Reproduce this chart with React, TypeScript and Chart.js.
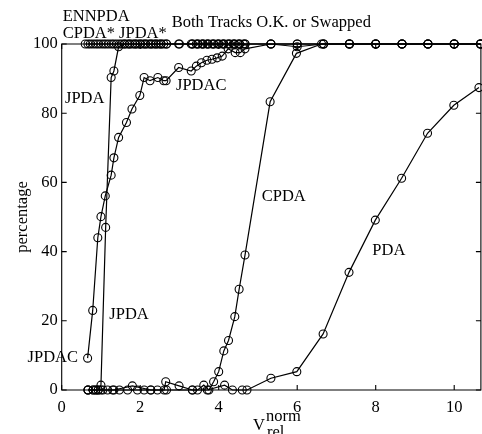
import React, { useEffect, useRef } from "react";
import { Chart, registerables } from "chart.js";

Chart.register(...registerables);

// ---- data ----
const xTicks = [0, 2, 4, 6, 8, 10];
const yTicks = [0, 20, 40, 60, 80, 100];

const ennpdaX = [0.6, 0.73, 0.87, 1.0, 1.13, 1.27, 1.4, 1.53, 1.67, 1.8, 1.93, 2.07, 2.2, 2.33, 2.47, 2.6, 2.98, 3.3, 3.43, 3.57, 3.7, 3.83, 3.97, 4.1, 4.23, 4.37, 4.5, 4.63, 5.33, 6.0, 6.67, 7.33, 8.0, 8.67, 9.33, 10.0, 10.67];
const ennpdaY = [100, 100, 100, 100, 100, 100, 100, 100, 100, 100, 100, 100, 100, 100, 100, 100, 100, 100, 100, 100, 100, 100, 100, 100, 100, 100, 100, 100, 100, 100, 100, 100, 100, 100, 100, 100, 100];

const starX = [0.67, 0.8, 0.93, 1.07, 1.2, 1.33, 1.47, 1.6, 1.73, 1.87, 2.0, 2.13, 2.27, 2.4, 2.53, 2.67, 3.33, 3.47, 3.6, 3.73, 3.87, 4.0, 4.13, 4.27, 4.4, 4.53, 4.67];
const starY = [100, 100, 100, 100, 100, 100, 100, 100, 100, 100, 100, 100, 100, 100, 100, 100, 100, 100, 100, 100, 100, 100, 100, 100, 100, 100, 100];

const jpdaX = [0.67, 0.8, 0.87, 0.93, 1.0, 1.12, 1.26, 1.33, 1.45, 1.6, 1.73, 1.87, 2.0, 2.13, 2.27, 2.4, 2.53, 2.67, 3.0, 3.33, 3.47, 3.6, 3.73, 3.87, 4.0, 4.13, 4.27, 4.4, 4.53, 4.67, 5.33, 6.0, 6.67, 7.33, 8.0, 8.67, 9.33, 10.0, 10.67];
const jpdaY = [0, 0, 0, 0, 1.4, 47, 90.3, 92.2, 99.2, 100, 100, 100, 100, 100, 100, 100, 100, 100, 100, 100, 100, 100, 100, 100, 100, 100, 100, 100, 100, 100, 100, 100, 100, 100, 100, 100, 100, 100, 100];

const jpdacX = [0.66, 0.79, 0.92, 1.0, 1.11, 1.26, 1.33, 1.45, 1.65, 1.79, 1.99, 2.1, 2.25, 2.45, 2.6, 2.66, 2.98, 3.3, 3.43, 3.56, 3.7, 3.83, 3.96, 4.09, 4.24, 4.42, 4.55, 4.67, 5.33, 6.0, 6.67, 7.33, 8.0, 8.67, 9.33, 10.0, 10.67];
const jpdacY = [9.2, 23, 44, 50.1, 56.1, 62.1, 67.1, 73, 77.3, 81.2, 85.1, 90.3, 89.4, 90.3, 89.4, 89.4, 93.2, 92.2, 93.6, 94.6, 95.3, 95.6, 96, 96.5, 98.6, 97.5, 97.5, 98.6, 100, 99.2, 100, 100, 100, 100, 100, 100, 100];

const cpdaX = [0.67, 0.8, 0.87, 0.93, 1.05, 1.17, 1.3, 1.47, 1.68, 1.93, 2.1, 2.27, 2.44, 2.61, 2.65, 2.99, 3.33, 3.46, 3.62, 3.75, 3.87, 4.0, 4.13, 4.25, 4.41, 4.52, 4.67, 5.31, 5.98, 6.62, 7.33, 8.0, 8.67, 9.33, 10.0, 10.67];
const cpdaY = [0, 0, 0, 0, 0, 0, 0, 0, 0, 0, 0, 0, 0, 0, 2.4, 1.2, 0, 0, 1.4, 0, 2.4, 5.3, 11.3, 14.3, 21.2, 29.1, 39, 83.3, 97.3, 100, 100, 100, 100, 100, 100, 100];

const pdaX = [0.67, 1.0, 1.33, 1.8, 2.27, 2.67, 3.33, 3.71, 4.15, 4.35, 4.6, 4.72, 5.33, 5.99, 6.66, 7.32, 7.99, 8.66, 9.32, 9.99, 10.63];
const pdaY = [0, 0, 0, 1.2, 0, 0, 0, 0, 1.4, 0, 0, 0, 3.4, 5.3, 16.2, 34, 49.1, 61.2, 74.2, 82.3, 87.4];

const X_MAX = 10.68;
const FONT = "'Liberation Serif', 'Times New Roman', Times, serif";
const FS = 16.5;

function pts(xs: number[], ys: number[]) {
  return xs.map((x, i) => ({ x, y: ys[i] }));
}

const framePlugin = {
  id: "frame",
  beforeDatasetsDraw(chart: any) {
    const { ctx, chartArea: a, scales } = chart;
    const xs = scales.x;
    const ys = scales.y;
    ctx.save();
    ctx.strokeStyle = "#000";
    ctx.lineWidth = 1.1;
    ctx.beginPath();
    ctx.rect(a.left, a.top, a.right - a.left, a.bottom - a.top);
    ctx.stroke();
    const L = 5;
    ctx.beginPath();
    xTicks.forEach((v) => {
      const px = xs.getPixelForValue(v);
      ctx.moveTo(px, a.bottom);
      ctx.lineTo(px, a.bottom - L);
      ctx.moveTo(px, a.top);
      ctx.lineTo(px, a.top + L);
    });
    yTicks.forEach((v) => {
      const py = ys.getPixelForValue(v);
      ctx.moveTo(a.left, py);
      ctx.lineTo(a.left + L, py);
      ctx.moveTo(a.right, py);
      ctx.lineTo(a.right - L, py);
    });
    ctx.stroke();
    ctx.restore();
  },
  afterDraw(chart: any) {
    const { ctx } = chart;
    ctx.save();
    ctx.fillStyle = "#000";
    ctx.font = `${FS}px ${FONT}`;
    ctx.textBaseline = "middle";
    ctx.textAlign = "left";
    const t = (s: string, x: number, y: number) => ctx.fillText(s, x, y);
    t("ENNPDA", 62.7, 16.5);
    t("CPDA* JPDA*", 62.7, 33.5);
    t("Both Tracks O.K. or Swapped", 171.7, 22.5);
    t("JPDA", 65, 98.7);
    t("JPDAC", 176, 86);
    t("JPDA", 109.3, 315);
    t("CPDA", 261.7, 197);
    t("PDA", 372.3, 251);
    ctx.textAlign = "right";
    t("JPDAC", 78, 357.5);
    // axis titles
    ctx.textAlign = "center";
    ctx.save();
    ctx.translate(23, 217);
    ctx.rotate(-Math.PI / 2);
    ctx.fillText("percentage", 0, 0);
    ctx.restore();
    ctx.textBaseline = "alphabetic";
    ctx.textAlign = "left";
    ctx.fillText("V", 253, 430);
    ctx.fillText("norm", 266, 421);
    ctx.fillText("rel", 267, 437);
    ctx.restore();
  },
};

export default function App() {
  const ref = useRef<HTMLCanvasElement | null>(null);
  useEffect(() => {
    document.body.style.margin = "0";
    document.body.style.overflow = "hidden";
    document.documentElement.style.overflow = "hidden";
    if (!ref.current) return;
    const line = (label: string, xs: number[], ys: number[]) => ({
      label,
      data: pts(xs, ys),
      showLine: true,
      borderColor: "#000",
      borderWidth: 1.2,
      backgroundColor: "rgba(0,0,0,0)",
      pointBorderColor: "#000",
      pointBackgroundColor: "rgba(0,0,0,0)",
      pointBorderWidth: 1.1,
      pointRadius: 4,
      tension: 0,
      clip: false as any,
    });
    const chart = new Chart(ref.current, {
      type: "scatter",
      data: {
        datasets: [
          line("ENNPDA", ennpdaX, ennpdaY),
          line("CPDA* JPDA*", starX, starY),
          line("JPDA", jpdaX, jpdaY),
          line("JPDAC", jpdacX, jpdacY),
          line("CPDA", cpdaX, cpdaY),
          line("PDA", pdaX, pdaY),
        ],
      },
      options: {
        animation: false,
        responsive: false,
        events: [],
        layout: { padding: { top: 44, left: 0, right: 2.4, bottom: 0 } },
        plugins: {
          legend: { display: false },
          tooltip: { enabled: false },
          title: { display: false },
        },
        scales: {
          x: {
            type: "linear",
            min: 0,
            max: X_MAX,
            grid: { display: false, drawTicks: false },
            border: { display: false },
            afterBuildTicks: (s: any) => {
              s.ticks = xTicks.map((v) => ({ value: v }));
            },
            afterFit: (s: any) => {
              s.height = 44;
            },
            ticks: {
              color: "#000",
              padding: 8,
              maxRotation: 0,
              font: { family: FONT, size: FS },
              callback: (v: any) => String(v),
            },
          },
          y: {
            type: "linear",
            min: 0,
            max: 100,
            grid: { display: false, drawTicks: false },
            border: { display: false },
            afterBuildTicks: (s: any) => {
              s.ticks = yTicks.map((v) => ({ value: v }));
            },
            afterFit: (s: any) => {
              s.width = 61.7;
            },
            ticks: {
              color: "#000",
              padding: 4,
              font: { family: FONT, size: FS },
              callback: (v: any) => String(v),
            },
          },
        },
      },
      plugins: [framePlugin],
    });
    return () => chart.destroy();
  }, []);
  return (
    <div style={{ position: "fixed", left: 0, top: 0, width: 486, height: 434, background: "#fff" }}>
      <canvas ref={ref} width={486} height={434} style={{ width: 486, height: 434, display: "block" }} />
    </div>
  );
}
